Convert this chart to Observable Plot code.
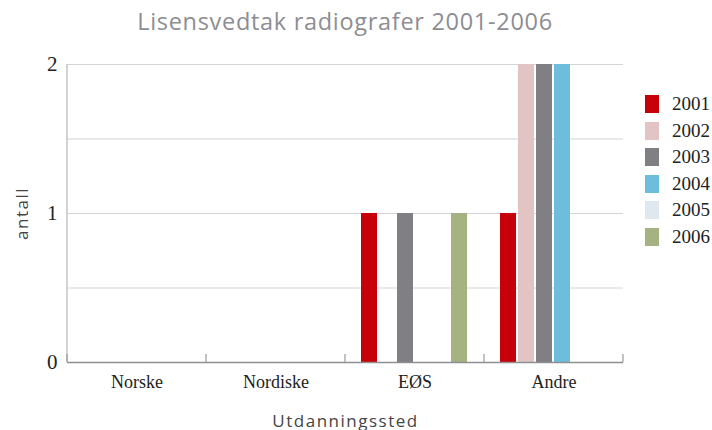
<!DOCTYPE html>
<html><head><meta charset="utf-8">
<script src="https://cdn.jsdelivr.net/npm/d3@7"></script>
<script src="https://cdn.jsdelivr.net/npm/@observablehq/plot@0.6"></script>
<style>
body{margin:0;background:#fff}
#wrap{position:relative;width:712px;height:430px;overflow:hidden}
#title{position:absolute;top:5px;left:-11px;width:712px;text-align:center;font-family:"Open Sans",sans-serif;font-size:23.5px;color:#8d8d92;letter-spacing:0.7px}
#legend{position:absolute;left:645px;top:95px;font-family:"Liberation Serif",serif;font-size:19px;color:#222}
.row{display:flex;align-items:center;height:18px;margin-bottom:8.6px}
.sw{width:14px;height:18px;margin-right:13px}
#chart{position:absolute;left:0;top:0}
</style></head>
<body><div id="wrap"><div id="chart"></div><div id="title"></div><div id="legend"></div></div>
<script>
const title = "Lisensvedtak radiografer 2001-2006";
const groups = ["Norske","Nordiske","EØS","Andre"];
const years = ["2001","2002","2003","2004","2005","2006"];
const colors = ["#c8000a","#e3c4c5","#808084","#6dbedc","#dfe7ef","#a5b382"];
const v2001 = [0,0,1,1];
const v2002 = [0,0,0,2];
const v2003 = [0,0,1,2];
const v2004 = [0,0,0,2];
const v2005 = [0,0,0,0];
const v2006 = [0,0,1,0];
const yTicks = [0,1,2];
const gridValues = [0.5,1,1.5,2];
const yLabel = "antall";
const xLabel = "Utdanningssted";

const series = [v2001,v2002,v2003,v2004,v2005,v2006];
const data = [];
years.forEach((yr,i)=>groups.forEach((g,j)=>data.push({group:g, year:yr, value:series[i][j]})));

document.getElementById("title").textContent = title;
const leg = document.getElementById("legend");
years.forEach((yr,i)=>{
  const r=document.createElement("div");r.className="row";
  const s=document.createElement("div");s.className="sw";s.style.background=colors[i];
  const t=document.createElement("span");t.textContent=yr;
  r.appendChild(s);r.appendChild(t);leg.appendChild(r);
});

const plot = Plot.plot({
  width:712, height:430, marginTop:64, marginBottom:68, marginLeft:67, marginRight:89,
  fx:{domain:groups, padding:0, label:null},
  x:{domain:years, paddingInner:0.09, paddingOuter:0.76, axis:null},
  y:{domain:[0,2], nice:false},
  color:{domain:years, range:colors},
  marks:[
    Plot.ruleY(gridValues,{stroke:"#d4d4d4", strokeWidth:1}),
    Plot.barY(data,{fx:"group", x:"year", y:"value", fill:"year"}),
    Plot.ruleY([0],{stroke:"#8f8f93", strokeWidth:1.5}),
    Plot.axisY({ticks:yTicks, tickSize:0, tickPadding:10, tickFormat:d=>String(d), fontFamily:"Liberation Serif", fontSize:21, fill:"#222",
      label:yLabel, labelAnchor:"center", labelArrow:"none", labelOffset:52}),
    Plot.axisFx({anchor:"bottom", tickSize:0, tickPadding:13, fontFamily:"Liberation Serif", fontSize:18, fill:"#222",
      label:xLabel, labelAnchor:"center", labelArrow:"none", labelOffset:64})
  ]
});
document.getElementById("chart").appendChild(plot);

const svg = d3.select(plot);
svg.selectAll('g[aria-label="y-axis label"], g[aria-label="fx-axis label"]')
  .attr("font-family","Open Sans").attr("font-size",17).attr("fill","#444").style("letter-spacing","1.5px");

const fx = plot.scale("fx"), y = plot.scale("y");
const y0 = y.apply(0), y2 = y.apply(2);
const starts = groups.map(g=>fx.apply(g));
const bw = fx.bandwidth;
const bounds = starts.concat([starts[starts.length-1]+bw]);
const deco = svg.append("g");
deco.append("line").attr("x1",bounds[0]).attr("x2",bounds[0]).attr("y1",y2).attr("y2",y0).attr("stroke","#c4c4c4").attr("stroke-width",1.5);
bounds.forEach(b=>deco.append("line").attr("x1",b).attr("x2",b).attr("y1",y0-8).attr("y2",y0).attr("stroke","#9a9a9e").attr("stroke-width",1.2));
</script></body></html>
